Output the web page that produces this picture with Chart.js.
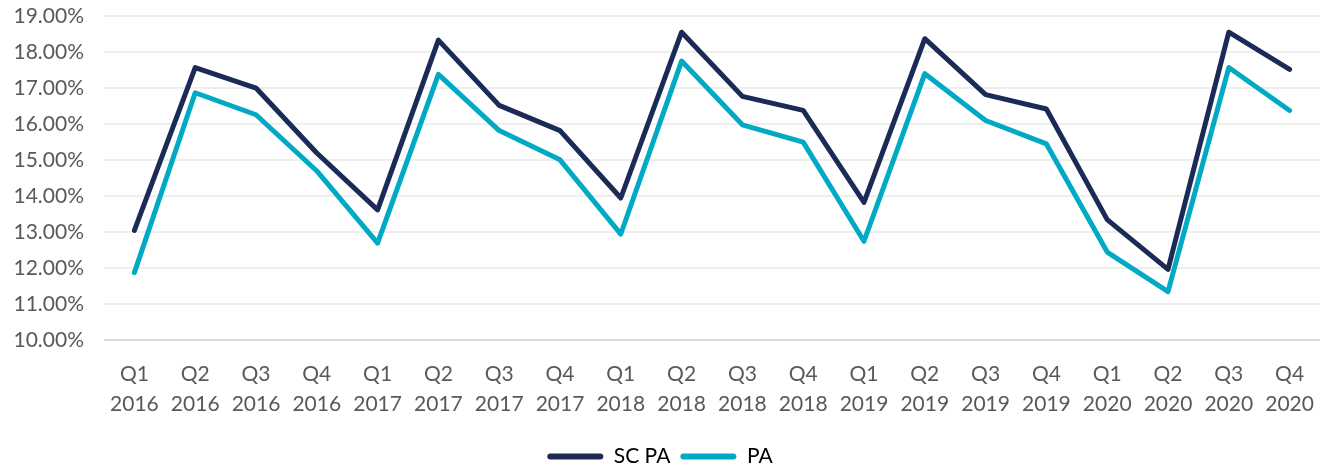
<!DOCTYPE html>
<html>
<head>
<meta charset="utf-8">
<script src="https://cdn.jsdelivr.net/npm/chart.js@4"></script>
<style>
  html, body { margin: 0; padding: 0; background: #fff; overflow: hidden; }
  #wrap { width: 1320px; height: 469px; }
</style>
</head>
<body>
<div id="wrap"><canvas id="chart"></canvas></div>
<script>
// quarters, two-line labels
var quarters = ['Q1','Q2','Q3','Q4','Q1','Q2','Q3','Q4','Q1','Q2','Q3','Q4','Q1','Q2','Q3','Q4','Q1','Q2','Q3','Q4'];
var years = ['2016','2016','2016','2016','2017','2017','2017','2017','2018','2018','2018','2018','2019','2019','2019','2019','2020','2020','2020','2020'];

var scPa = [13.05, 17.57, 17.0, 15.2, 13.62, 18.33, 16.52, 15.82, 13.95, 18.55, 16.77, 16.38, 13.83, 18.37, 16.82, 16.42, 13.35, 11.97, 18.55, 17.52];
var pa = [11.88, 16.87, 16.26, 14.7, 12.7, 17.38, 15.82, 15.01, 12.95, 17.75, 15.98, 15.5, 12.75, 17.4, 16.1, 15.45, 12.45, 11.35, 17.57, 16.38];

var seriesNames = ['SC PA', 'PA'];
var yMin = 10, yMax = 19, yStep = 1;

var labels = [];
for (var i = 0; i < quarters.length; i++) {
    labels.push([quarters[i], years[i]]);
}

var textColor = '#595959';
Chart.defaults.font.family = "'Source Sans Pro', Lato, 'Open Sans', sans-serif";
Chart.defaults.font.size = 21;
Chart.defaults.color = textColor;

var canvas = document.getElementById('chart');
var chart = new Chart(canvas, {
    type: 'line',
    data: {
        labels: labels,
        datasets: [
        {
            label: seriesNames[0],
            data: scPa,
            borderColor: '#1c2a57',
            backgroundColor: '#1c2a57',
            borderWidth: 5,
            pointRadius: 0,
            tension: 0,
            borderCapStyle: 'round',
            borderJoinStyle: 'round'
        },
        {
            label: seriesNames[1],
            data: pa,
            borderColor: '#00a9c4',
            backgroundColor: '#00a9c4',
            borderWidth: 5,
            pointRadius: 0,
            tension: 0,
            borderCapStyle: 'round',
            borderJoinStyle: 'round'
        }]
    },
    options: {
        responsive: true,
        maintainAspectRatio: false,
        animation: false,
        layout: { padding: { top: 0, left: 0, right: 0, bottom: -8 } },
        plugins: {
            tooltip: { enabled: false },
            legend: {
                position: 'bottom',
                labels: {
                    boxWidth: 56,
                    boxHeight: 6,
                    padding: 10,
                    color: textColor,
                    font: { size: 21 },
                    generateLabels: function(c) {
                        return c.data.datasets.map(function(ds, idx) {
                            return {
                                text: ds.label,
                                fillStyle: ds.borderColor,
                                strokeStyle: ds.borderColor,
                                lineWidth: 0,
                                borderRadius: 3,
                                datasetIndex: idx
                            };
                        });
                    }
                }
            }
        },
        scales: {
            x: {
                offset: true,
                grid: { display: false },
                border: { display: false },
                afterFit: function(scale) {
                    scale.paddingLeft = 0;
                    scale.paddingRight = 0;
                    scale.height += 6;
                },
                ticks: { maxRotation: 0, autoSkip: false, padding: 11, font: { size: 21, lineHeight: 1.42 } }
            },
            y: {
                min: yMin,
                max: yMax,
                afterFit: function(scale) {
                    scale.width = 104;
                    scale.paddingTop = 16;
                    scale.paddingBottom = 0;
                },
                border: { display: false },
                grid: {
                    drawTicks: false,
                    lineWidth: 2,
                    color: function(ctx) {
                        return ctx.tick && ctx.tick.value === yMin ? '#d9d9d9' : '#eeeeee';
                    }
                },
                ticks: {
                    stepSize: yStep,
                    padding: 20,
                    font: { size: 21 },
                    callback: function(v) { return v.toFixed(2) + '%'; }
                }
            }
        }
    }
});
</script>
</body>
</html>
